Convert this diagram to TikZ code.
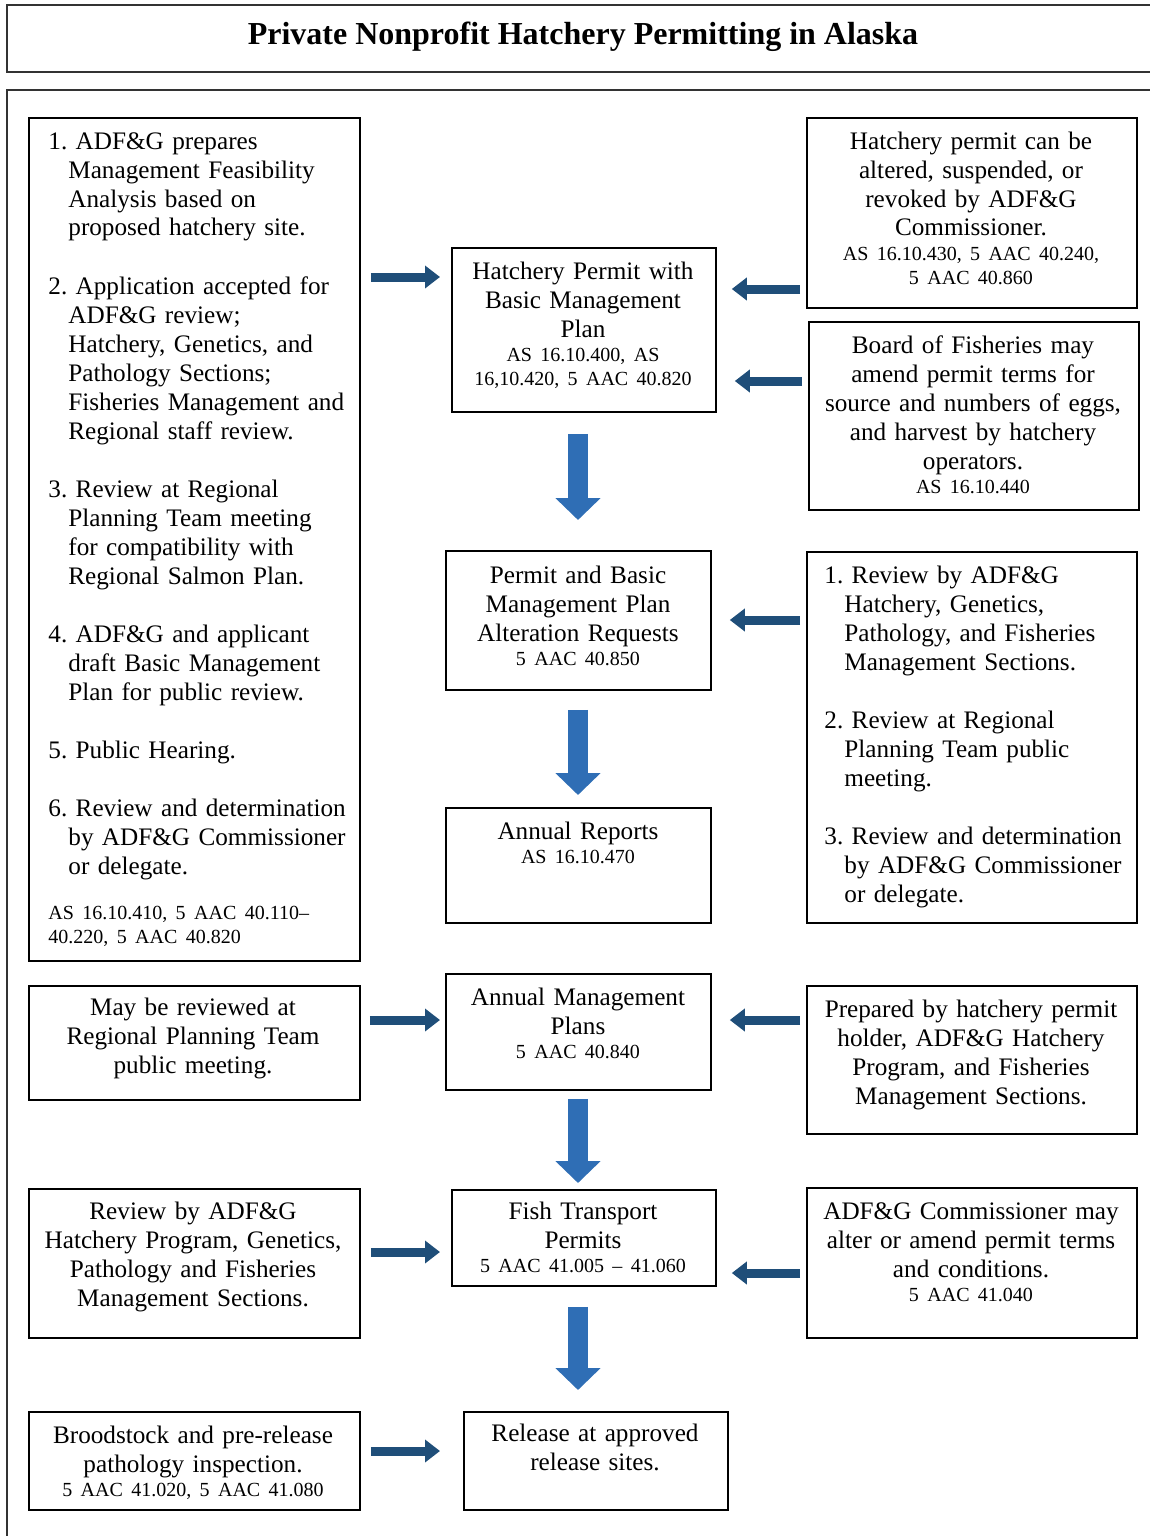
\documentclass[tikz,border=0pt]{standalone}
\usepackage{fontspec}
\setmainfont{Liberation Serif}
\usetikzlibrary{arrows.meta}
\definecolor{hnavy}{HTML}{1F4E79}
\definecolor{vblue}{HTML}{2F6EB5}
\newcommand{\lawref}[1]{{\fontsize{10}{12}\selectfont #1\par}}
\frenchspacing

\begin{document}
\begin{tikzpicture}[x=0.5pt,y=-0.5pt,
      pbox/.style={draw, line width=0.9pt, anchor=north west, inner sep=0pt},
      ptext/.style={anchor=base, inner sep=0pt, text width=165pt, align=center, font=\fontsize{12.6}{14.5}\selectfont\frenchspacing},
      plist/.style={ptext, anchor=base west, align=left},
      harrow/.style={draw=hnavy, line width=4.5pt, -{Triangle[length=7.5pt,width=11pt]}},
      varrow/.style={draw=vblue, line width=10pt, -{Triangle[length=11pt,width=22pt]}}]
      \useasboundingbox (0,0) rectangle (1150,1536);

      \draw[line width=1.1pt, draw=black!80] (7,5) rectangle (1165,72);
      \draw[line width=1.1pt, draw=black!80] (7,90) rectangle (1165,1560);
      \node[anchor=base, font=\fontsize{16}{18}\selectfont\bfseries] (title) at (583,45) {Private Nonprofit Hatchery Permitting in Alaska};

      % boxes
      \node[pbox, minimum width=165.5pt, minimum height=421.5pt] (steps) at (28,117) {};
      \node[pbox, minimum width=132pt, minimum height=82pt] (permit) at (451,247) {};
      \node[pbox, minimum width=165pt, minimum height=95pt] (revoke) at (806,117) {};
      \node[pbox, minimum width=165pt, minimum height=94pt] (board) at (808,321) {};
      \node[pbox, minimum width=132.5pt, minimum height=69.5pt] (alter) at (445,550) {};
      \node[pbox, minimum width=165pt, minimum height=185.5pt] (review) at (806,551) {};
      \node[pbox, minimum width=132.5pt, minimum height=57.5pt] (reports) at (445,807) {};
      \node[pbox, minimum width=165.5pt, minimum height=57pt] (rpt) at (28,985) {};
      \node[pbox, minimum width=132.5pt, minimum height=58pt] (amp) at (445,973) {};
      \node[pbox, minimum width=165pt, minimum height=74pt] (prepared) at (806,985) {};
      \node[pbox, minimum width=165.5pt, minimum height=74.5pt] (sections) at (28,1188) {};
      \node[pbox, minimum width=132pt, minimum height=48pt] (transport) at (451,1189) {};
      \node[pbox, minimum width=165pt, minimum height=75pt] (commish) at (806,1187) {};
      \node[pbox, minimum width=165.5pt, minimum height=49pt] (brood) at (28,1411) {};
      \node[pbox, minimum width=132pt, minimum height=49pt] (release) at (463,1411) {};

      % texts
      \node[plist] (steps-t) at (48,149) {1. ADF\&G prepares\\
      \hspace*{10pt}Management Feasibility\\
      \hspace*{10pt}Analysis based on\\
      \hspace*{10pt}proposed hatchery site.\\[14.5pt]
      2. Application accepted for\\
      \hspace*{10pt}ADF\&G review;\\
      \hspace*{10pt}Hatchery, Genetics, and\\
      \hspace*{10pt}Pathology Sections;\\
      \hspace*{10pt}Fisheries Management and\\
      \hspace*{10pt}Regional staff review.\\[14.5pt]
      3. Review at Regional\\
      \hspace*{10pt}Planning Team meeting\\
      \hspace*{10pt}for compatibility with\\
      \hspace*{10pt}Regional Salmon Plan.\\[14.5pt]
      4. ADF\&G and applicant\\
      \hspace*{10pt}draft Basic Management\\
      \hspace*{10pt}Plan for public review.\\[14.5pt]
      5. Public Hearing.\\[14.5pt]
      6. Review and determination\\
      \hspace*{10pt}by ADF\&G Commissioner\\
      \hspace*{10pt}or delegate.\\[10.75pt]
      \lawref{AS 16.10.410, 5 AAC 40.110--\\40.220, 5 AAC 40.820}};
      \node[plist] (review-t) at (824,583) {1. Review by ADF\&G\\
      \hspace*{10pt}Hatchery, Genetics,\\
      \hspace*{10pt}Pathology, and Fisheries\\
      \hspace*{10pt}Management Sections.\\[14.5pt]
      2. Review at Regional\\
      \hspace*{10pt}Planning Team public\\
      \hspace*{10pt}meeting.\\[14.5pt]
      3. Review and determination\\
      \hspace*{10pt}by ADF\&G Commissioner\\
      \hspace*{10pt}or delegate.};
      \node[ptext] (revoke-t) at (971,149) {Hatchery permit can be\\altered, suspended, or\\revoked by ADF\&G\\Commissioner.\\\lawref{AS 16.10.430, 5 AAC 40.240,\\5 AAC 40.860}};
      \node[ptext] (permit-t) at (583,279) {Hatchery Permit with\\Basic Management\\Plan\\\lawref{AS 16.10.400, AS\\16,10.420, 5 AAC 40.820}};
      \node[ptext] (board-t) at (973,353) {Board of Fisheries may\\amend permit terms for\\source and numbers of eggs,\\and harvest by hatchery\\operators.\\\lawref{AS 16.10.440}};
      \node[ptext] (alter-t) at (578,583) {Permit and Basic\\Management Plan\\Alteration Requests\\\lawref{5 AAC 40.850}};
      \node[ptext] (reports-t) at (578,839) {Annual Reports\\\lawref{AS 16.10.470}};
      \node[ptext] (rpt-t) at (193,1015) {May be reviewed at\\Regional Planning Team\\public meeting.};
      \node[ptext] (amp-t) at (578,1005) {Annual Management\\Plans\\\lawref{5 AAC 40.840}};
      \node[ptext] (prepared-t) at (971,1017) {Prepared by hatchery permit\\holder, ADF\&G Hatchery\\Program, and Fisheries\\Management Sections.};
      \node[ptext] (sections-t) at (193,1219) {Review by ADF\&G\\Hatchery Program, Genetics,\\Pathology and Fisheries\\Management Sections.};
      \node[ptext] (transport-t) at (583,1219) {Fish Transport\\Permits\\\lawref{5 AAC 41.005 -- 41.060}};
      \node[ptext] (commish-t) at (971,1219) {ADF\&G Commissioner may\\alter or amend permit terms\\and conditions.\\\lawref{5 AAC 41.040}};
      \node[ptext] (brood-t) at (193,1443) {Broodstock and pre-release\\pathology inspection.\\\lawref{5 AAC 41.020, 5 AAC 41.080}};
      \node[ptext] (release-t) at (595,1441) {Release at approved\\release sites.};

      % arrows
      \draw[harrow, shorten <=5pt, shorten >=5.5pt] (steps.east |- 0,277) -- (permit.west |- 0,277);
      \draw[harrow, shorten <=3pt, shorten >=7.5pt] (revoke.west |- 0,289) -- (permit.east |- 0,289);
      \draw[harrow, shorten <=3pt, shorten >=9pt] (board.west |- 0,381) -- (permit.east |- 0,381);
      \draw[varrow, shorten <=10.5pt, shorten >=15pt] (permit.south -| 578,0) -- (alter.north -| 578,0);
      \draw[harrow, shorten <=3pt, shorten >=9pt] (review.west |- 0,620) -- (alter.east |- 0,620);
      \draw[varrow, shorten <=9.5pt, shorten >=6pt] (alter.south -| 578,0) -- (reports.north -| 578,0);
      \draw[harrow, shorten <=4.5pt, shorten >=2.5pt] (rpt.east |- 0,1020) -- (amp.west |- 0,1020);
      \draw[harrow, shorten <=3pt, shorten >=9pt] (prepared.west |- 0,1020) -- (amp.east |- 0,1020);
      \draw[varrow, shorten <=4pt, shorten >=3pt] (amp.south -| 578,0) -- (transport.north -| 578,0);
      \draw[harrow, shorten <=5pt, shorten >=5.5pt] (sections.east |- 0,1252) -- (transport.west |- 0,1252);
      \draw[harrow, shorten <=3pt, shorten >=7.5pt] (commish.west |- 0,1273) -- (transport.east |- 0,1273);
      \draw[varrow, shorten <=10pt, shorten >=10.5pt] (transport.south -| 578,0) -- (release.north -| 578,0);
      \draw[harrow, shorten <=5pt, shorten >=11.5pt] (brood.east |- 0,1451) -- (release.west |- 0,1451);

\end{tikzpicture}
\end{document}
